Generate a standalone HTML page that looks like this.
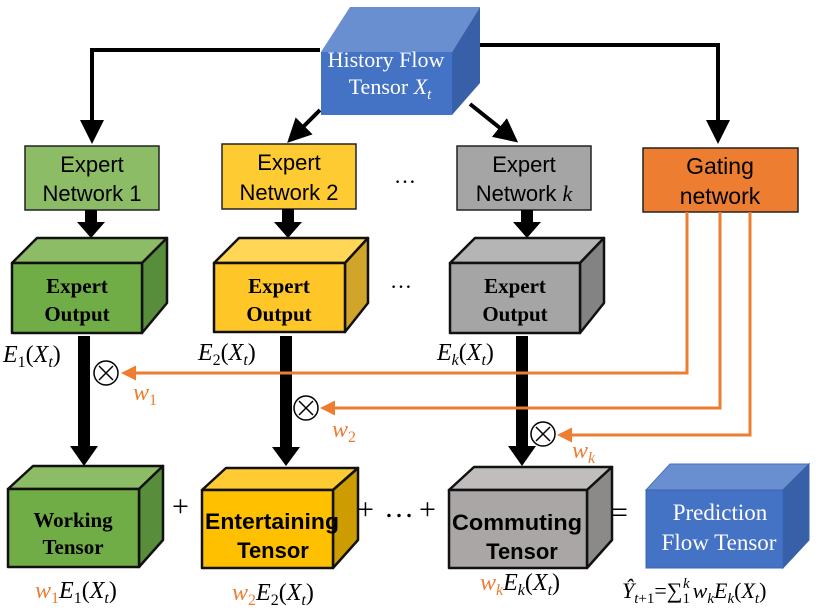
<!DOCTYPE html>
<html><head><style>
body{margin:0;background:#fff}
svg{display:block}
text{font-family:"Liberation Serif",serif}
text.n,.n text{font-family:"Liberation Sans",sans-serif}
</style></head><body>
<svg width="830" height="613" viewBox="0 0 830 613" xmlns="http://www.w3.org/2000/svg">
<defs>
<marker id="ab" markerWidth="6" markerHeight="6" refX="5" refY="3" orient="auto" markerUnits="strokeWidth"><path d="M0,0 L6,3 L0,6 z" fill="#000"/></marker>
<marker id="ao" markerWidth="5" markerHeight="5" refX="4" refY="2.5" orient="auto" markerUnits="strokeWidth"><path d="M0,0 L5,2.5 L0,5 z" fill="#ed7d31"/></marker>
</defs>
<polyline points="320,50 92,50 92,140" fill="none" stroke="#000" stroke-width="4" marker-end="url(#ab)"/>
<polyline points="480,45 718,45 718,140" fill="none" stroke="#000" stroke-width="4" marker-end="url(#ab)"/>
<line x1="320" y1="110" x2="290" y2="140" stroke="#000" stroke-width="4" marker-end="url(#ab)"/>
<line x1="470" y1="104" x2="515" y2="140" stroke="#000" stroke-width="4" marker-end="url(#ab)"/>
<polygon points="321,52 350,7 480,7 452,52" fill="#6a8fd0"/>
<polygon points="452,52 480,7 480,83 452,115" fill="#3760a8"/>
<rect x="321" y="52" width="131" height="63" fill="#4472c4"/>
<text x="386" y="67" font-size="22" fill="#fff" text-anchor="middle">History Flow</text>
<text x="390" y="94" font-size="22" fill="#fff" text-anchor="middle">Tensor <tspan font-style="italic">X</tspan><tspan font-style="italic" font-size="15" dy="5">t</tspan></text>
<rect x="25" y="146" width="134" height="64" fill="#8cbd66" stroke="#222" stroke-width="1.5"/>
<text x="92" y="172" font-size="22" text-anchor="middle" class="n">Expert</text>
<text x="92" y="201" font-size="22" text-anchor="middle" class="n">Network 1</text>
<rect x="222" y="144" width="134" height="65" fill="#ffcb32" stroke="#222" stroke-width="1.5"/>
<text x="289" y="170" font-size="22" text-anchor="middle" class="n">Expert</text>
<text x="289" y="200" font-size="22" text-anchor="middle" class="n">Network 2</text>
<rect x="457" y="146" width="134" height="64" fill="#a5a5a5" stroke="#222" stroke-width="1.5"/>
<text x="524" y="172" font-size="22" text-anchor="middle" class="n">Expert</text>
<text x="524" y="201" font-size="22" text-anchor="middle" class="n">Network <tspan font-style="italic" font-family="Liberation Serif">k</tspan></text>
<rect x="643" y="148" width="155" height="64" fill="#ed7d31" stroke="#222" stroke-width="1.5"/>
<text x="720" y="174" font-size="23" text-anchor="middle" class="n">Gating</text>
<text x="720" y="204" font-size="23" text-anchor="middle" class="n">network</text>
<text x="405" y="183" font-size="22" text-anchor="middle">…</text>
<g fill="#000">
<rect x="85" y="210" width="12" height="12"/><polygon points="77,222 105,222 91,238"/>
<rect x="282" y="209" width="12" height="13"/><polygon points="274,222 302,222 288,238"/>
<rect x="521" y="210" width="12" height="12"/><polygon points="513,222 541,222 527,238"/>
</g>
<g stroke="#111" stroke-width="2.5" stroke-linejoin="round">
<polygon points="12,263 37,238 167,238 142,263" fill="#8cbd66"/>
<polygon points="142,263 167,238 167,303 142,333" fill="#588d3b"/>
<rect x="12" y="263" width="130" height="70" fill="#70ad47"/>
<polygon points="214,263 239,238 368,238 345,263" fill="#ffd655"/>
<polygon points="345,263 368,238 368,303 345,332" fill="#d1a42a"/>
<rect x="214" y="263" width="131" height="69" fill="#ffc628"/>
<polygon points="450,263 475,238 604,238 580,263" fill="#b5b5b5"/>
<polygon points="580,263 604,238 604,303 580,333" fill="#838383"/>
<rect x="450" y="263" width="130" height="70" fill="#a5a5a5"/>
</g>
<g font-weight="bold" font-size="21" text-anchor="middle">
<text x="77" y="293">Expert</text><text x="77" y="321">Output</text>
<text x="279" y="293">Expert</text><text x="279" y="321">Output</text>
<text x="515" y="293">Expert</text><text x="515" y="321">Output</text>
</g>
<text x="401" y="288" font-size="22" text-anchor="middle">…</text>
<g font-size="24" font-style="italic">
<text x="3" y="362">E<tspan font-size="16" dy="5" font-style="normal">1</tspan><tspan dy="-5" font-style="normal">(</tspan>X<tspan font-size="16" dy="5">t</tspan><tspan dy="-5" font-style="normal">)</tspan></text>
<text x="198" y="360">E<tspan font-size="16" dy="5" font-style="normal">2</tspan><tspan dy="-5" font-style="normal">(</tspan>X<tspan font-size="16" dy="5">t</tspan><tspan dy="-5" font-style="normal">)</tspan></text>
<text x="437" y="360">E<tspan font-size="16" dy="5">k</tspan><tspan dy="-5" font-style="normal">(</tspan>X<tspan font-size="16" dy="5">t</tspan><tspan dy="-5" font-style="normal">)</tspan></text>
</g>
<g fill="#000">
<rect x="78" y="336" width="12" height="110"/><polygon points="70,446 98,446 84,466"/>
<rect x="280" y="336" width="12" height="112"/><polygon points="272,447 300,447 286,466"/>
<rect x="516" y="336" width="12" height="110"/><polygon points="508,446 536,446 522,466"/>
</g>
<g fill="none" stroke="#ed7d31" stroke-width="3">
<polyline points="687,212 687,373 124,373" marker-end="url(#ao)"/>
<polyline points="720,212 720,408 323,408" marker-end="url(#ao)"/>
<polyline points="750,212 750,435 560,435" marker-end="url(#ao)"/>
</g>
<g fill="#fff" stroke="#000" stroke-width="1.5">
<circle cx="106" cy="373" r="12"/><circle cx="306" cy="408" r="12"/><circle cx="543" cy="434" r="12"/>
</g>
<g stroke="#000" stroke-width="1.5">
<path d="M99,366 L113,380 M113,366 L99,380"/>
<path d="M299,401 L313,415 M313,401 L299,415"/>
<path d="M536,427 L550,441 M550,427 L536,441"/>
</g>
<g fill="#ed7d31" font-size="24" font-style="italic">
<text x="133" y="400">w<tspan font-size="16" dy="5" font-style="normal">1</tspan></text>
<text x="332" y="437">w<tspan font-size="16" dy="5" font-style="normal">2</tspan></text>
<text x="572" y="458">w<tspan font-size="16" dy="5">k</tspan></text>
</g>
<g stroke="#111" stroke-width="2.5" stroke-linejoin="round">
<polygon points="8,489 33,466 163,466 139,489" fill="#8cbd66"/>
<polygon points="139,489 163,466 163,540 139,567" fill="#588d3b"/>
<rect x="8" y="489" width="131" height="78" fill="#70ad47"/>
<polygon points="202,490 226,468 358,468 333,490" fill="#ffcb32"/>
<polygon points="333,490 358,468 358,540 333,568" fill="#cc9c00"/>
<rect x="202" y="490" width="131" height="78" fill="#ffc000"/>
<polygon points="449,490 474,467 612,467 587,490" fill="#c0bdbc"/>
<polygon points="587,490 612,467 612,540 587,568" fill="#8c8a89"/>
<rect x="449" y="490" width="138" height="78" fill="#a9a6a5"/>
</g>
<polygon points="646,490 670,464 809,464 783,490" fill="#6a8fd0" stroke="#4a72b8" stroke-width="1"/>
<polygon points="783,490 809,464 809,540 783,568" fill="#3760a8" stroke="#3760a8" stroke-width="1"/>
<rect x="646" y="490" width="137" height="78" fill="#4472c4" stroke="#3a64b0" stroke-width="1"/>
<g font-weight="bold" font-size="21" text-anchor="middle">
<text x="73" y="527">Working</text><text x="73" y="554">Tensor</text>
</g>
<g font-weight="bold" font-size="22" text-anchor="middle">
<text class="n" x="272" y="529" textLength="134" lengthAdjust="spacingAndGlyphs">Entertaining</text><text class="n" x="273" y="558">Tensor</text>
<text class="n" x="517" y="530" textLength="130" lengthAdjust="spacingAndGlyphs">Commuting</text><text class="n" x="522" y="559">Tensor</text>
</g>
<text x="720" y="520" font-size="23" fill="#fff" text-anchor="middle">Prediction</text>
<text x="719" y="550" font-size="23" fill="#fff" text-anchor="middle">Flow Tensor</text>
<g font-size="30">
<text x="172" y="516">+</text>
<text x="357" y="519">+</text><text x="384" y="517">…</text><text x="419" y="519">+</text>
<text x="611" y="522">=</text>
</g>
<g font-size="24" font-style="italic">
<text x="35" y="598"><tspan fill="#ed7d31">w<tspan font-size="16" dy="5" font-style="normal">1</tspan></tspan><tspan dy="-5">E</tspan><tspan font-size="16" dy="5" font-style="normal">1</tspan><tspan dy="-5" font-style="normal">(</tspan>X<tspan font-size="16" dy="5">t</tspan><tspan dy="-5" font-style="normal">)</tspan></text>
<text x="232" y="600"><tspan fill="#ed7d31">w<tspan font-size="16" dy="5" font-style="normal">2</tspan></tspan><tspan dy="-5">E</tspan><tspan font-size="16" dy="5" font-style="normal">2</tspan><tspan dy="-5" font-style="normal">(</tspan>X<tspan font-size="16" dy="5">t</tspan><tspan dy="-5" font-style="normal">)</tspan></text>
<text x="480" y="590"><tspan fill="#ed7d31">w<tspan font-size="16" dy="5">k</tspan></tspan><tspan dy="-5">E</tspan><tspan font-size="16" dy="5">k</tspan><tspan dy="-5" font-style="normal">(</tspan>X<tspan font-size="16" dy="5">t</tspan><tspan dy="-5" font-style="normal">)</tspan></text>
<text x="622" y="598" font-size="22">Ŷ<tspan font-size="15" dy="5">t</tspan><tspan font-size="15" font-style="normal">+1</tspan><tspan dy="-5" font-style="normal">=∑</tspan><tspan font-size="15" dy="5" font-style="normal">1</tspan><tspan font-size="15" dx="-7" dy="-15">k</tspan><tspan dy="10" dx="3">w</tspan><tspan font-size="15" dy="5">k</tspan><tspan dy="-5">E</tspan><tspan font-size="15" dy="5">k</tspan><tspan dy="-5" font-style="normal">(</tspan>X<tspan font-size="15" dy="5">t</tspan><tspan dy="-5" font-style="normal">)</tspan></text>
</g>
</svg>
</body></html>
